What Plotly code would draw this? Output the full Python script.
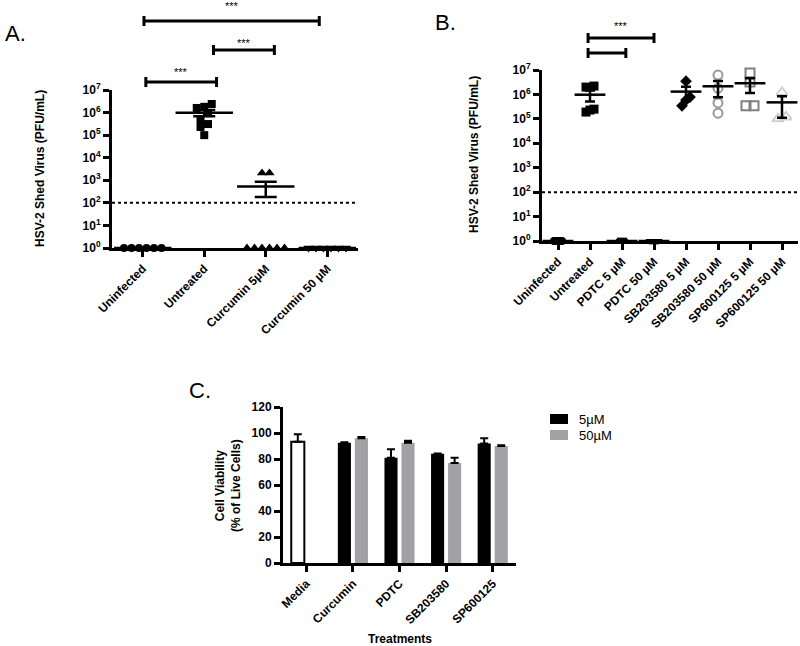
import numpy as np
import plotly.graph_objects as go

FONT = "Liberation Sans"
W, H = 800, 646

# ---------------- Panel A data ----------------
a_categories = ["Uninfected", "Untreated", "Curcumin 5µM", "Curcumin 50 µM"]
a_uninfected = [1, 1, 1, 1, 1, 1]
a_untreated = [1.8e6, 1.6e6, 2.4e6, 9.5e5, 5.2e5, 2.3e5, 3.1e5, 1.0e5]
a_curcumin5 = [2.1e3, 2.1e3, 1, 1, 1, 1, 1, 1]
a_curcumin50 = [1, 1, 1, 1, 1, 1]

# ---------------- Panel B data ----------------
b_categories = ["Uninfected", "Untreated", "PDTC 5 µM", "PDTC 50 µM",
                "SB203580 5 µM", "SB203580 50 µM", "SP600125 5 µM", "SP600125 50 µM"]
b_uninfected = [1, 1, 1, 1, 1, 1, 1, 1, 1, 1]
b_untreated = [2.2e6, 2.0e6, 2.5e5, 1.9e5, 2.3e5]
b_pdtc5 = [1, 1, 1, 1, 1]
b_pdtc50 = [1, 1, 1, 1, 1]
b_sb5 = [3.5e6, 7.8e5, 5.9e5, 3.4e5]
b_sb50 = [6.2e6, 1.8e6, 4.5e5, 1.7e5]
b_sp5 = [7.6e6, 3.2e6, 3.4e5, 3.4e5]
b_sp50 = [1.2e6, 1.2e5, 1.0e5]

detection_limit = 100
log_ticks = [1, 10, 100, 1e3, 1e4, 1e5, 1e6, 1e7]
log_ticktext = ["10<sup>%d</sup>" % i for i in range(8)]

# ---------------- Panel C data ----------------
c_categories = ["Media", "Curcumin", "PDTC", "SB203580", "SP600125"]
c_media = [93.3]
c_media_sem = [5.7]
c_5uM = [92.5, 81.0, 84.0, 92.0]
c_5uM_sem = [0.4, 6.5, 0.3, 4.0]
c_50uM = [96.0, 92.5, 77.0, 90.0]
c_50uM_sem = [1.0, 1.5, 4.0, 0.5]
c_series_names = ["5µM", "50µM"]
c_series_colors = ["black", "#a2a2a6"]

# ---------------- layout geometry ----------------
A_x = [112 / W, 358 / W]
A_y = [1 - 248 / H, 1 - 90 / H]
B_x = [542 / W, 798 / W]
B_y = [1 - 241 / H, 1 - 70 / H]
C_x = [283 / W, 516 / W]
C_y = [1 - 563 / H, 1 - 407 / H]


def swarm(values, ncat, xdom, ydom, step_px, max_px):
    px_unit = (xdom[1] - xdom[0]) * W / ncat
    px_dec = (ydom[1] - ydom[0]) * H / 7.0
    logs = np.log10(np.asarray(values, dtype=float))
    order = np.argsort(logs, kind="stable")
    offsets = np.zeros(len(values))
    rows, cur = [], []
    for idx in order:
        if cur and (logs[idx] - logs[cur[0]]) * px_dec >= step_px:
            rows.append(cur)
            cur = []
        cur.append(idx)
    if cur:
        rows.append(cur)
    for row in rows:
        k = len(row)
        if k == 1:
            continue
        sp = min(step_px, max_px / (k - 1))
        for j, idx in enumerate(row):
            offsets[idx] = (j - (k - 1) / 2) * sp / px_unit
    return offsets


def sem(v):
    v = np.asarray(v, dtype=float)
    if len(v) < 2:
        return 0.0
    return float(np.std(v, ddof=1) / np.sqrt(len(v)))


fig = go.Figure()


def add_group(values, idx, ncat, xdom, ydom, xa, ya, symbol, size, color,
              lw, step_px, max_px, mean_w, cap_w):
    offs = swarm(values, ncat, xdom, ydom, step_px, max_px)
    fig.add_trace(go.Scatter(
        x=idx + offs, y=values, mode="markers", xaxis=xa, yaxis=ya,
        cliponaxis=False, showlegend=False, hoverinfo="skip",
        marker=dict(symbol=symbol, size=size, color=color,
                    line=dict(color=color, width=lw))))
    m = float(np.mean(values))
    s = sem(values)
    fig.add_trace(go.Scatter(
        x=[idx], y=[m], mode="markers", xaxis=xa, yaxis=ya,
        cliponaxis=False, showlegend=False, hoverinfo="skip",
        marker=dict(symbol="line-ew", size=mean_w, color="black",
                    line=dict(color="black", width=2.5)),
        error_y=dict(type="data", array=[s], visible=True, color="black",
                     thickness=2.5, width=cap_w)))


# Panel A groups
a_groups = [
    (a_uninfected, "circle", 8, "black", 0),
    (a_untreated, "square", 8, "black", 0),
    (a_curcumin5, "triangle-up", 9, "black", 0),
    (a_curcumin50, "triangle-down", 9, "black", 0),
]
for i, (vals, sym, sz, col, lw) in enumerate(a_groups):
    add_group(vals, i, 4, A_x, A_y, "x", "y", sym, sz, col, lw, 7.5, 38, 41, 11)

# Panel B groups
b_groups = [
    (b_uninfected, "circle", 8, "black", 0),
    (b_untreated, "square", 9, "black", 0),
    (b_pdtc5, "triangle-up", 8, "black", 0),
    (b_pdtc50, "triangle-down", 8, "black", 0),
    (b_sb5, "diamond", 9, "black", 0),
    (b_sb50, "circle-open", 9, "#999999", 2),
    (b_sp5, "square-open", 9, "#808080", 2),
    (b_sp50, "triangle-up-open", 10, "#cfcfcf", 2),
]
for i, (vals, sym, sz, col, lw) in enumerate(b_groups):
    add_group(vals, i, 8, B_x, B_y, "x2", "y2", sym, sz, col, lw, 9, 8, 22, 5)

# detection limit lines
fig.add_trace(go.Scatter(x=[-0.5, 3.5], y=[detection_limit] * 2, mode="lines",
                         xaxis="x", yaxis="y", showlegend=False, hoverinfo="skip",
                         line=dict(color="black", width=2, dash="dot")))
fig.add_trace(go.Scatter(x=[-0.5, 7.5], y=[detection_limit] * 2, mode="lines",
                         xaxis="x2", yaxis="y2", showlegend=False, hoverinfo="skip",
                         line=dict(color="black", width=2, dash="dot")))

# Panel C bars
fig.add_trace(go.Bar(
    x=c_categories[:1], y=c_media, xaxis="x3", yaxis="y3", offsetgroup="a",
    showlegend=False, marker=dict(color="white", line=dict(color="black", width=2)),
    error_y=dict(type="data", array=c_media_sem, arrayminus=[0], symmetric=False,
                 color="black", thickness=2, width=4)))
fig.add_trace(go.Bar(
    x=c_categories[1:], y=c_5uM, xaxis="x3", yaxis="y3", offsetgroup="a",
    name=c_series_names[0], showlegend=False,
    marker=dict(color=c_series_colors[0], line=dict(width=0)),
    error_y=dict(type="data", array=c_5uM_sem, arrayminus=[0] * 4, symmetric=False,
                 color="black", thickness=2, width=4)))
fig.add_trace(go.Bar(
    x=c_categories[1:], y=c_50uM, xaxis="x3", yaxis="y3", offsetgroup="b",
    name=c_series_names[1], showlegend=False,
    marker=dict(color=c_series_colors[1], line=dict(width=0)),
    error_y=dict(type="data", array=c_50uM_sem, arrayminus=[0] * 4, symmetric=False,
                 color="black", thickness=2, width=4)))

tickfont = dict(family=FONT, size=12, color="black", weight="bold")
ax_common = dict(showline=True, linewidth=3, linecolor="black", ticks="outside",
                 ticklen=6, tickwidth=2.5, tickcolor="black", showgrid=False,
                 zeroline=False, tickfont=tickfont, fixedrange=True, automargin=False)

fig.update_layout(
    width=W, height=H, margin=dict(l=0, r=0, t=0, b=0, autoexpand=False),
    paper_bgcolor="white", plot_bgcolor="white",
    font=dict(family=FONT, color="black"),
    barmode="group", bargap=0.27, bargroupgap=0.23, showlegend=False,
    xaxis=dict(domain=A_x, anchor="y", range=[-0.5, 3.5], tickvals=list(range(4)),
               ticktext=a_categories, tickangle=-45, **ax_common),
    yaxis=dict(domain=A_y, anchor="x", type="log", range=[0, 7], tickvals=log_ticks,
               ticktext=log_ticktext, **ax_common),
    xaxis2=dict(domain=B_x, anchor="y2", range=[-0.5, 7.5], tickvals=list(range(8)),
                ticktext=b_categories, tickangle=-45, **ax_common),
    yaxis2=dict(domain=B_y, anchor="x2", type="log", range=[0, 7], tickvals=log_ticks,
                ticktext=log_ticktext, **ax_common),
    xaxis3=dict(domain=C_x, anchor="y3", tickangle=-45, categoryorder="array",
                categoryarray=c_categories, **ax_common),
    yaxis3=dict(domain=C_y, anchor="x3", range=[0, 120], dtick=20, **ax_common),
)

# legend key for panel C
for k, (nm, col) in enumerate(zip(c_series_names, c_series_colors)):
    top = 414 + 16 * k
    fig.add_shape(type="rect", xref="paper", yref="paper", x0=550 / W, x1=568 / W,
                  y0=1 - (top + 10) / H, y1=1 - top / H,
                  fillcolor=col, line=dict(width=0))
    fig.add_annotation(xref="paper", yref="paper", x=577 / W, y=1 - (top + 5) / H,
                       text=nm, showarrow=False, xanchor="left", yanchor="middle",
                       font=dict(family=FONT, size=13, color="black"))

# significance brackets (group index from, to, pixel row of bracket, label)
brackets = [
    ("x", 0.02, 2.87, 21, "***", 6),
    ("x", 1.15, 2.14, 50, "***", 43),
    ("x", 0.05, 1.20, 82, "***", 72),
    ("x2", 0.94, 3.00, 38, "***", 26),
    ("x2", 0.94, 2.12, 53, None, None),
]
tick_h = 5 / H
for xa, x0, x1, ypx, lab, lab_px in brackets:
    yb = 1 - ypx / H
    for (sx0, sx1, sy0, sy1) in [(x0, x1, yb, yb), (x0, x0, yb - tick_h, yb + tick_h),
                                 (x1, x1, yb - tick_h, yb + tick_h)]:
        fig.add_shape(type="line", xref=xa, yref="paper", x0=sx0, x1=sx1, y0=sy0,
                      y1=sy1, line=dict(color="black", width=3))
    if lab:
        fig.add_annotation(xref=xa, yref="paper", x=(x0 + x1) / 2, y=1 - lab_px / H,
                           text=lab, showarrow=False, xanchor="center", yanchor="middle",
                           font=dict(family=FONT, size=11, color="black"))

ann = [
    dict(x=3 / W, y=1 - 33 / H, text="A.", xanchor="left"),
    dict(x=433 / W, y=1 - 23 / H, text="B.", xanchor="left"),
    dict(x=187 / W, y=1 - 390 / H, text="C.", xanchor="left"),
]
for a in ann:
    fig.add_annotation(xref="paper", yref="paper", x=a["x"], y=a["y"], text=a["text"],
                       showarrow=False, xanchor=a["xanchor"], yanchor="middle",
                       font=dict(family=FONT, size=22, color="black"))

titlefont = dict(family=FONT, size=12, color="black", weight="bold")
titles = [
    (40, 169, "HSV-2 Shed Virus (PFU/mL)", -90),
    (474, 155, "HSV-2 Shed Virus (PFU/mL)", -90),
    (228, 485, "Cell Viability<br>(% of Live Cells)", -90),
    (400, 639, "Treatments", 0),
]
for tx, ty, txt, ang in titles:
    fig.add_annotation(xref="paper", yref="paper", x=tx / W, y=1 - ty / H, text=txt,
                       textangle=ang, showarrow=False, xanchor="center",
                       yanchor="middle", font=titlefont)

fig.write_html("out.html", config={"displayModeBar": False},
               post_script="document.body.style.margin='0';"
                           "document.body.style.overflow='hidden';")
